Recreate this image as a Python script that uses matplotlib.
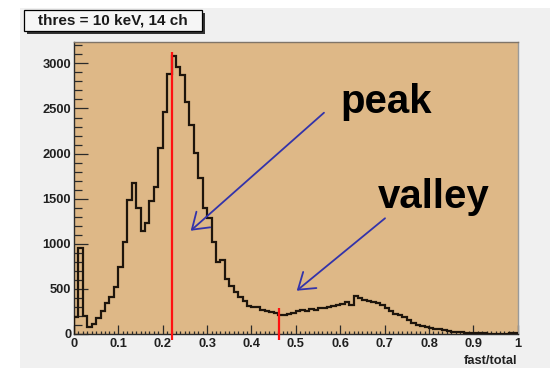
import numpy as np
import matplotlib
matplotlib.use('Agg')
import matplotlib.pyplot as plt
from matplotlib.patches import Rectangle
from matplotlib.ticker import MultipleLocator, FuncFormatter

# histogram of fast/total, 100 bins from 0 to 1
bin_edges = np.linspace(0, 1, 101)
counts = [185, 955, 205, 80, 115, 175, 260, 340, 415, 520,
          740, 1015, 1480, 1670, 1395, 1145, 1225, 1470, 1630, 2060,
          2465, 2880, 3080, 2960, 2875, 2575, 2315, 2010, 1730, 1400,
          1285, 1015, 800, 820, 605, 530, 470, 405, 365, 310,
          303, 303, 265, 250, 248, 230, 212, 210, 225, 230,
          250, 268, 258, 272, 266, 285, 287, 296, 305, 318,
          335, 358, 320, 420, 395, 378, 368, 358, 347, 322,
          285, 250, 222, 210, 185, 155, 126, 100, 88, 80,
          70, 60, 52, 44, 37, 24, 26, 22, 15, 15,
          8, 7, 6, 4, 4, 4, 4, 5, 10, 11]

title_text = 'thres = 10 keV, 14 ch'
xlabel_text = 'fast/total'
peak_pos = 0.2216
valley_pos = 0.461

W, H = 553, 368
fig = plt.figure(figsize=(W / 100, H / 100), dpi=100)
fig.patch.set_facecolor('white')

# grey canvas pad (behind the axes)
fig.patches.append(Rectangle((20 / W, 0), 530 / W, 1 - 8 / H, transform=fig.transFigure,
                             facecolor='#f0f0f0', edgecolor='none', zorder=-5))

ax = fig.add_axes([74 / W, 1 - 334 / H, 443.7 / W, 292 / H])
ax.set_facecolor('#deb887')
ax.set_xlim(0, 1)
ax.set_ylim(0, 3237)

ax.stairs(counts, bin_edges, baseline=0, color='#1e150c', lw=1.6, zorder=3)

# red markers
ax.vlines(peak_pos, -66, 3130, color='#ff1010', lw=1.6, clip_on=False, zorder=4)
ax.vlines(valley_pos, -66, 285, color='#ff1010', lw=1.6, clip_on=False, zorder=4)

# arrows + labels
arrow_kw = dict(arrowstyle='->,head_length=1.1,head_width=0.75', color='#3333aa', lw=1.3,
                mutation_scale=10, shrinkA=0, shrinkB=0)
ax.annotate('', xy=(0.263, 1145), xytext=(0.5634, 2453), arrowprops=arrow_kw, zorder=5)
ax.annotate('', xy=(0.502, 480), xytext=(0.701, 1283), arrowprops=arrow_kw, zorder=5)
ax.text(0.600, 2453, 'peak', fontsize=29, fontweight='bold', family='Liberation Sans',
        ha='left', va='baseline', color='black')
ax.text(0.685, 1394, 'valley', fontsize=29, fontweight='bold', family='Liberation Sans',
        ha='left', va='baseline', color='black')

# ticks
ax.xaxis.set_major_locator(MultipleLocator(0.1))
ax.xaxis.set_minor_locator(MultipleLocator(0.01))
ax.yaxis.set_major_locator(MultipleLocator(500))
ax.yaxis.set_minor_locator(MultipleLocator(100))
ax.xaxis.set_major_formatter(FuncFormatter(lambda v, p: '%g' % round(v, 2)))
ax.tick_params(axis='y', which='major', direction='in', length=10, width=0.9, color='#2a2a2a', pad=2)
ax.tick_params(axis='y', which='minor', direction='in', length=5.5, width=0.9, color='#2a2a2a')
ax.tick_params(axis='x', which='major', direction='in', length=6.5, width=0.9, color='#2a2a2a', pad=3)
ax.tick_params(axis='x', which='minor', direction='in', length=2.5, width=0.9, color='#2a2a2a')
for lab in ax.get_xticklabels() + ax.get_yticklabels():
    lab.set_fontsize(9.3)
    lab.set_fontweight('bold')
    lab.set_family('Liberation Sans')
    lab.set_color('#202020')

ax.spines['left'].set_color('#2a2a2a')
ax.spines['bottom'].set_color('#2a2a2a')
ax.spines['top'].set_color('#7f7468')
ax.spines['right'].set_color('#9a9a9a')
for s in ax.spines.values():
    s.set_linewidth(1.0)

ax.text(1.0, -(361 - 334) / 292, xlabel_text, transform=ax.transAxes, ha='right', va='center',
        fontsize=9.3, fontweight='bold', family='Liberation Sans', color='#202020')

# title box with shadow
bx0, by0, bx1, by1 = 24, 10, 201.7, 30.7
fig.patches.append(Rectangle(((bx0 + 3) / W, 1 - (by1 + 3) / H), (bx1 - bx0) / W, (by1 - by0) / H,
                             transform=fig.transFigure, facecolor='#333333', edgecolor='none', zorder=1))
fig.patches.append(Rectangle((bx0 / W, 1 - by1 / H), (bx1 - bx0) / W, (by1 - by0) / H,
                             transform=fig.transFigure, facecolor='#f6f6f6', edgecolor='black',
                             lw=0.9, zorder=2))
fig.text((bx0 + bx1) / 2 / W, 1 - (by0 + by1) / 2 / H, title_text, ha='center', va='center',
         fontsize=11, fontweight='bold', family='Liberation Sans', color='#1a1a1a', zorder=3)

fig.savefig('out.png', dpi=100)
